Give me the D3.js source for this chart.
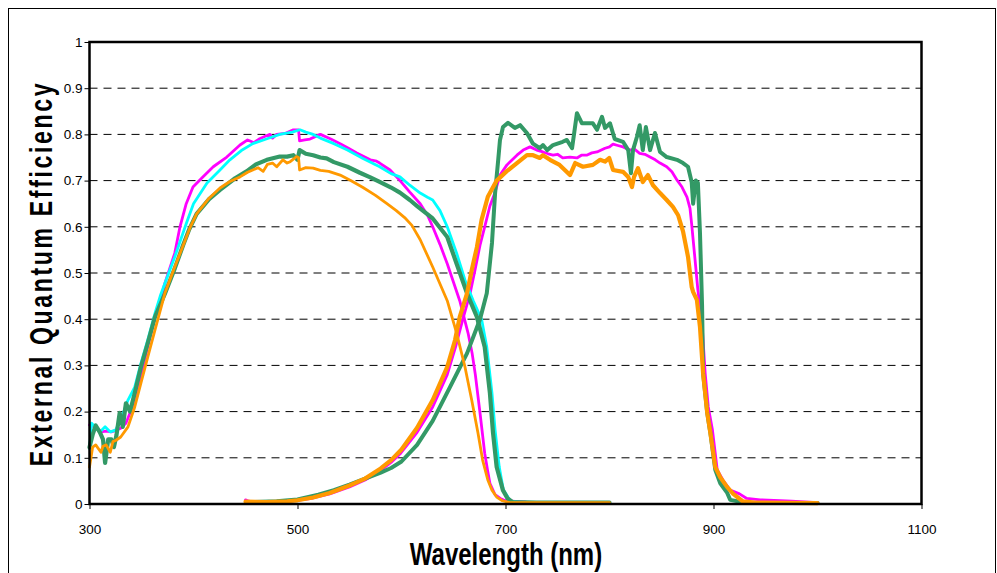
<!DOCTYPE html>
<html>
<head>
<meta charset="utf-8">
<script src="https://cdn.jsdelivr.net/npm/d3@7"></script>
<style>
  html, body { margin: 0; padding: 0; background: #fff; }
  svg { display: block; font-family: "Liberation Sans", Arial, sans-serif; }
</style>
</head>
<body>
<svg id="chart" width="997" height="573"></svg>
<script>
// Tick values
const xTicks = [300, 500, 700, 900, 1100];
const yTicks = [0, 0.1, 0.2, 0.3, 0.4, 0.5, 0.6, 0.7, 0.8, 0.9, 1];

// Blue-side response curves: [wavelength nm, EQE]
const shortMagenta = [[300,0.171],[305,0.167],[311,0.156],[316,0.158],[321,0.156],[326,0.16],[330,0.164],[335,0.175],[340,0.203],[345,0.232],[350,0.283],[356,0.34],[363,0.405],[368,0.44],[372.5,0.478],[382,0.543],[387,0.60],[393,0.65],[399.5,0.686],[409,0.708],[419,0.73],[432,0.751],[444.7,0.777],[452,0.788],[455,0.785],[458,0.782],[463,0.79],[470,0.797],[473.5,0.80],[476,0.792],[480,0.80],[488,0.802],[496,0.81],[501,0.81],[502,0.786],[507,0.788],[512,0.79],[522,0.80],[532,0.79],[541,0.78],[549,0.77],[557,0.76],[570,0.745],[576,0.742],[579,0.738],[589,0.723],[598.6,0.70],[608,0.675],[618,0.65],[625,0.625],[630,0.60],[637,0.562],[644,0.52],[650,0.48],[656,0.44],[660,0.405],[664,0.37],[668,0.325],[671,0.28],[675.5,0.197],[680,0.11],[683,0.07],[685,0.045],[690,0.02],[695,0.012],[700,0.007],[720,0.004],[760,0.003],[800,0.003]];
const shortCyan = [[300,0.12],[302,0.175],[306,0.165],[310,0.156],[315,0.167],[320,0.156],[325,0.16],[330,0.182],[337,0.225],[343.5,0.253],[349.5,0.305],[356,0.355],[363,0.413],[368,0.45],[372.5,0.478],[382,0.535],[393.5,0.61],[400,0.65],[413,0.695],[425,0.722],[435,0.745],[446,0.765],[457,0.78],[470,0.79],[483,0.80],[495,0.805],[502.4,0.81],[508,0.805],[515,0.80],[522,0.792],[535,0.78],[548,0.766],[563,0.748],[579,0.73],[590,0.715],[598.5,0.708],[608,0.69],[618,0.673],[625,0.664],[630,0.658],[637,0.635],[644,0.60],[653,0.543],[661,0.485],[669,0.44],[677,0.40],[682,0.34],[687,0.24],[690,0.16],[694,0.08],[698,0.03],[705,0.006],[720,0.003],[800,0.003]];
const shortGreen = [[300,0.123],[303,0.15],[306,0.17],[310,0.155],[313,0.14],[315,0.089],[318,0.14],[321,0.14],[323.5,0.123],[326,0.15],[329,0.197],[332,0.167],[335,0.218],[339,0.20],[343.5,0.24],[349.5,0.297],[356,0.348],[363,0.405],[372.5,0.455],[382,0.51],[390,0.56],[396,0.595],[403,0.628],[415,0.66],[425.5,0.68],[440,0.705],[451,0.72],[460,0.735],[470.5,0.745],[483,0.752],[490,0.752],[496,0.755],[500,0.745],[502,0.766],[508,0.758],[515,0.755],[522,0.75],[528,0.748],[535,0.74],[548,0.73],[560,0.717],[570,0.707],[579,0.697],[590,0.685],[598.5,0.674],[608,0.658],[615,0.645],[630,0.618],[644,0.578],[653,0.52],[663,0.456],[672.5,0.405],[680,0.34],[685,0.24],[688,0.154],[691.5,0.08],[697.5,0.03],[702,0.012],[707,0.004],[730,0.003],[800,0.003]];
const shortOrange = [[300,0.08],[303,0.123],[306,0.128],[311,0.112],[313,0.125],[316,0.128],[320,0.112],[322.5,0.135],[325.5,0.138],[330,0.145],[337,0.167],[343.5,0.21],[349.5,0.262],[356,0.318],[363,0.377],[372.5,0.456],[382,0.513],[392,0.571],[397,0.6],[403,0.628],[415,0.662],[425.5,0.684],[435,0.698],[444.7,0.708],[452,0.718],[457,0.723],[462,0.728],[467,0.72],[471,0.735],[476,0.738],[480,0.73],[486,0.745],[490,0.738],[493,0.741],[497,0.748],[499,0.752],[501,0.75],[502,0.723],[508,0.728],[515,0.727],[522,0.722],[530,0.72],[541,0.712],[552,0.699],[563,0.685],[575,0.668],[586,0.65],[595,0.635],[603,0.62],[610,0.603],[618,0.572],[630,0.513],[644,0.44],[653,0.37],[661,0.297],[667.5,0.225],[673.5,0.154],[678,0.095],[683,0.052],[687,0.03],[691.5,0.015],[697,0.007],[704,0.003],[750,0.003],[800,0.003]];

// Red-side response curves: [wavelength nm, EQE]
const longMagenta = [[450,0.009],[453,0.006],[460,0.004],[480,0.005],[500,0.008],[515,0.013],[531,0.022],[550,0.037],[565,0.052],[580,0.073],[590,0.09],[598.5,0.108],[615,0.155],[630,0.21],[644,0.28],[652,0.34],[659,0.40],[666,0.456],[671,0.51],[675.5,0.56],[680,0.60],[685,0.645],[690,0.675],[694.7,0.712],[701.4,0.734],[705,0.742],[711,0.755],[717,0.766],[723.6,0.773],[730,0.766],[736,0.762],[741,0.758],[745.7,0.755],[750,0.757],[755,0.749],[762,0.751],[768.7,0.749],[773,0.755],[778,0.755],[783,0.76],[788,0.762],[795.7,0.77],[800,0.773],[803.4,0.779],[808,0.776],[813,0.773],[819.7,0.766],[824,0.768],[829,0.759],[834,0.757],[839,0.751],[844,0.745],[848.6,0.738],[855,0.73],[860,0.719],[865,0.701],[869.7,0.686],[874.5,0.664],[877.4,0.64],[879,0.606],[882,0.535],[885,0.463],[889,0.39],[892,0.283],[895,0.21],[899,0.16],[903.6,0.074],[909,0.052],[916,0.03],[925,0.022],[932,0.012],[945,0.009],[964,0.007],[975,0.006],[1000,0.003]];
const longGreen = [[455,0.004],[480,0.006],[500,0.01],[520,0.02],[535,0.03],[550,0.042],[565,0.055],[580,0.068],[590,0.078],[600,0.092],[615,0.128],[630,0.18],[646.6,0.253],[663,0.326],[675.5,0.40],[682,0.456],[687,0.565],[690,0.673],[693,0.745],[694.7,0.788],[697.6,0.816],[702.4,0.825],[709,0.814],[714,0.82],[720.6,0.803],[726.4,0.78],[733,0.77],[736,0.777],[740,0.766],[745.7,0.777],[755,0.784],[759,0.788],[764,0.77],[768.7,0.846],[773.5,0.824],[784,0.824],[788,0.81],[792.8,0.838],[795.7,0.814],[800.5,0.824],[805,0.79],[813,0.784],[818,0.766],[820.6,0.716],[822.6,0.766],[826.4,0.795],[829,0.82],[832,0.766],[835,0.816],[839,0.766],[843.7,0.803],[848.6,0.762],[855,0.751],[864.9,0.745],[870.7,0.738],[875.5,0.73],[879,0.697],[880.4,0.65],[883,0.70],[885,0.695],[887,0.587],[889,0.43],[890,0.283],[894,0.197],[897,0.154],[901.7,0.074],[906.5,0.045],[913,0.025],[916,0.009],[932,0.002],[1000,0.002]];
const longOrange = [[450,0.005],[470,0.004],[490,0.006],[500,0.008],[515,0.014],[531,0.024],[550,0.04],[565,0.055],[580,0.077],[590,0.095],[600,0.118],[615,0.165],[630,0.225],[644,0.297],[651.5,0.355],[656,0.405],[663,0.456],[667.5,0.506],[672.5,0.556],[677,0.615],[683,0.665],[691.5,0.70],[701,0.72],[711,0.738],[720.6,0.755],[726.5,0.755],[733,0.749],[736,0.755],[742.8,0.745],[752,0.734],[762,0.712],[767,0.738],[774.5,0.73],[784,0.734],[791,0.745],[795.7,0.741],[799.7,0.749],[803.4,0.723],[813,0.719],[818,0.708],[821.6,0.686],[823.6,0.708],[827.4,0.727],[832,0.697],[837,0.712],[841.8,0.69],[848.6,0.673],[855,0.658],[861,0.643],[866,0.625],[870.7,0.59],[875.5,0.535],[879,0.47],[880.4,0.459],[884,0.442],[887,0.383],[890,0.283],[894,0.197],[897,0.154],[901.7,0.08],[906.5,0.058],[913,0.037],[919,0.022],[928,0.006],[940,0.003],[1000,0.002]];

const svg = d3.select("#chart");
const plot = { left: 89.5, right: 921.5, top: 42, bottom: 504 };

const x = d3.scaleLinear().domain([300, 1100]).range([plot.left, plot.right]);
const y = d3.scaleLinear().domain([0, 1]).range([plot.bottom, plot.top]);

// Outer frame
svg.append("rect")
  .attr("x", 8.5).attr("y", 8.5).attr("width", 987).attr("height", 600)
  .attr("fill", "#fff").attr("stroke", "#000").attr("stroke-width", 1);

// Dashed horizontal gridlines
svg.append("g").selectAll("line")
  .data(yTicks.filter(d => d > 0 && d < 1))
  .join("line")
  .attr("x1", plot.left).attr("x2", plot.right)
  .attr("y1", d => y(d)).attr("y2", d => y(d))
  .attr("stroke", "#000").attr("stroke-width", 1)
  .attr("stroke-dasharray", "8,6");

// Axes
const yAxis = svg.append("g")
  .attr("transform", `translate(${plot.left},0)`)
  .call(d3.axisLeft(y).tickValues(yTicks).tickSize(5).tickPadding(2)
        .tickFormat(d => d3.format("~g")(d)));
const xAxis = svg.append("g")
  .attr("transform", `translate(0,${plot.bottom})`)
  .call(d3.axisBottom(x).tickValues(xTicks).tickSize(5).tickPadding(15)
        .tickFormat(d3.format("d")));
[yAxis, xAxis].forEach(g => {
  g.select(".domain").remove();
  g.selectAll(".tick line").attr("stroke", "#000").attr("stroke-width", 1);
  g.selectAll(".tick text")
    .attr("fill", "#000")
    .style("font-family", '"Liberation Sans", Arial, sans-serif')
    .style("font-size", "13.5px");
});

// Curves
const line = d3.line().x(d => x(d[0])).y(d => y(d[1]));
const curves = [
  { data: shortMagenta, color: "#FF00FF", width: 2.8 },
  { data: longMagenta,  color: "#FF00FF", width: 2.8 },
  { data: shortCyan,    color: "#00FFFF", width: 2.8 },
  { data: shortGreen,   color: "#339966", width: 4.2 },
  { data: longGreen,    color: "#339966", width: 4 },
  { data: shortOrange,  color: "#FF9900", width: 2.8 },
  { data: longOrange,   color: "#FF9900", width: 4.2 }
];
svg.append("g").selectAll("path")
  .data(curves)
  .join("path")
  .attr("d", d => line(d.data))
  .attr("fill", "none")
  .attr("stroke", d => d.color)
  .attr("stroke-width", d => d.width)
  .attr("stroke-linejoin", "round")
  .attr("stroke-linecap", "round");

// Plot area border
svg.append("rect")
  .attr("x", plot.left).attr("y", plot.top)
  .attr("width", plot.right - plot.left).attr("height", plot.bottom - plot.top)
  .attr("fill", "none").attr("stroke", "#000").attr("stroke-width", 2.5);

// Axis titles (tall, narrow bold lettering)
svg.append("text")
  .attr("transform", `translate(506,565) scale(0.75,1)`)
  .attr("text-anchor", "middle")
  .style("font-size", "32px").style("font-weight", "bold")
  .text("Wavelength (nm)");

svg.append("text")
  .attr("transform", `translate(52,273.5) rotate(-90) scale(0.72,1)`)
  .attr("text-anchor", "middle")
  .style("font-size", "32px").style("font-weight", "bold")
  .style("letter-spacing", "3.7px")
  .text("External Quantum Efficiency");
</script>
</body>
</html>
